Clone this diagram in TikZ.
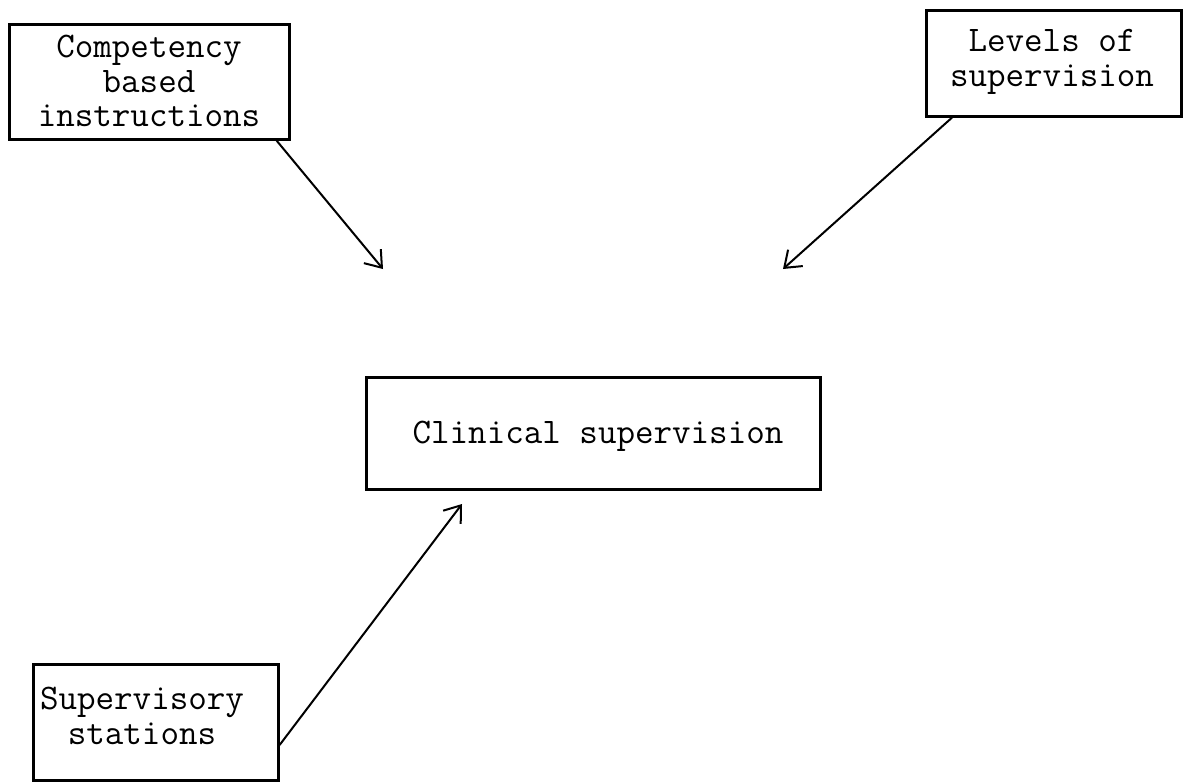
\documentclass[tikz,border=0pt]{standalone}
\usepackage{fontspec}
\usetikzlibrary{arrows.meta,calc}
\tikzset{
  boxframe/.style={draw, line width=1.3pt, inner sep=0pt, anchor=north west},
  boxtext/.style={font=\ttfamily\fontsize{18}{17.2}\selectfont, align=center, inner sep=0pt},
  link/.style={line width=1pt, -{Straight Barb[length=7.5pt,width=11pt,line width=1pt]}}
}
\begin{document}
\begin{tikzpicture}[x=0.5pt,y=-0.5pt]
\useasboundingbox (0,0) rectangle (1183,783);
% boxes
\node[boxframe, minimum width=140pt, minimum height=57.5pt] (cb) at (8,23) {};
\node[boxtext] (cbt) at (149,81) {Competency\\based\\instructions};
\node[boxframe, minimum width=127.5pt, minimum height=53pt] (lv) at (925,9) {};
\node[boxtext] (lvt) at (1052,62) {Levels of\\supervision};
\node[boxframe, minimum width=227pt, minimum height=56pt] (cs) at (365,376) {};
\node[boxtext] (cst) at (598,436) {Clinical supervision};
\node[boxframe, minimum width=122.5pt, minimum height=58pt] (ss) at (32,663) {};
\node[boxtext] (sst) at (142,716) {Supervisory\\stations};
% arrow tips
\coordinate (t1) at (383,269);
\coordinate (t2) at (783,269);
\coordinate (t3) at (462,504);
\draw[link] ($(cb.south east)+(-14,0)$) -- (t1);
\draw[link] ($(lv.south west)+(27,0)$) -- (t2);
\draw[link] ($(ss.north east)+(0,82)$) -- (t3);
\end{tikzpicture}
\end{document}
